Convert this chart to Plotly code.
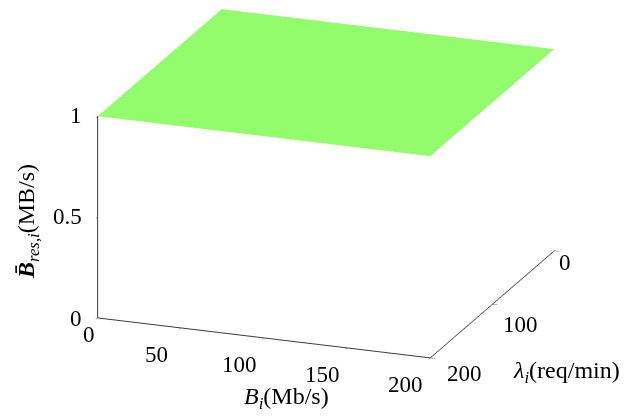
import plotly.graph_objects as go

# Grid of link bandwidth B_i (Mb/s) and request rate lambda_i (req/min)
bandwidth = [0, 50, 100, 150, 200]
req_rate = [0, 50, 100, 150, 200]

# Mean residual bandwidth (MB/s); rows follow req_rate, columns follow bandwidth
res_bw = [
    [1.0, 1.0, 1.0, 1.0, 1.0],
    [1.0, 1.0, 1.0, 1.0, 1.0],
    [1.0, 1.0, 1.0, 1.0, 1.0],
    [1.0, 1.0, 1.0, 1.0, 1.0],
    [1.0, 1.0, 1.0, 1.0, 1.0],
]

lam_ticks = [0, 100, 200]
bw_ticks = [0, 50, 100, 150, 200]
res_ticks = [0, 0.5, 1]

GREEN = "#92FC6D"
AXIS_COLOR = "#3c3c3c"
FONT = "Liberation Serif"
W, H = 631, 419
LAM_MAX, BW_MAX = 200, 200

# Surface z is indexed [bandwidth][req_rate] for x = req_rate, y = bandwidth
z_grid = [[res_bw[i][j] for i in range(len(req_rate))] for j in range(len(bandwidth))]

fig = go.Figure(
    go.Surface(
        x=req_rate,
        y=bandwidth,
        z=z_grid,
        colorscale=[[0, GREEN], [1, GREEN]],
        showscale=False,
        lighting=dict(ambient=1, diffuse=0, specular=0, roughness=1, fresnel=0),
        hoverinfo="skip",
    )
)

axis_common = dict(
    showbackground=False,
    showgrid=False,
    zeroline=False,
    showline=True,
    linecolor=AXIS_COLOR,
    linewidth=2,
    ticks="outside",
    ticklen=5,
    tickcolor=AXIS_COLOR,
    tickwidth=1,
    showticklabels=False,
    showspikes=False,
    title=dict(text=""),
)

ZOOM = 1.935
tick_font = dict(family=FONT, size=23, color="black")

# Tick labels drawn as scene annotations anchored at the tick positions
scene_ann = []
for v in res_ticks:
    scene_ann.append(dict(
        x=LAM_MAX, y=0, z=v, text=f"{v:g}", showarrow=False,
        xanchor="right", yanchor="middle", xshift=-14, yshift=1 if v else -1,
        font=tick_font,
    ))
for v in bw_ticks:
    dx, dy = (-9, -17) if v == 0 else (-25, -27)
    scene_ann.append(dict(
        x=LAM_MAX, y=v, z=0, text=f"{v:g}", showarrow=False,
        xanchor="center", yanchor="middle", xshift=dx, yshift=dy,
        font=tick_font,
    ))
lam_offsets = {0: (11, -12), 100: (28, -20), 200: (34, -16)}
for v in lam_ticks:
    dx, dy = lam_offsets[v]
    scene_ann.append(dict(
        x=v, y=BW_MAX, z=0, text=f"{v:g}", showarrow=False,
        xanchor="center", yanchor="middle", xshift=dx, yshift=dy,
        font=tick_font,
    ))

fig.update_layout(
    width=W,
    height=H,
    margin=dict(l=0, r=0, t=0, b=0),
    paper_bgcolor="white",
    showlegend=False,
    scene=dict(
        domain=dict(x=[0.034, 1.0], y=[0.124, 1.0]),
        xaxis=dict(axis_common, range=[0, LAM_MAX], tickvals=lam_ticks),
        yaxis=dict(axis_common, range=[0, BW_MAX], tickvals=bw_ticks),
        zaxis=dict(axis_common, range=[0, 1], tickvals=res_ticks),
        aspectmode="manual",
        aspectratio=dict(x=1 * ZOOM, y=1 * ZOOM, z=0.6 * ZOOM),
        camera=dict(
            projection=dict(type="orthographic"),
            up=dict(x=0, y=0, z=1),
            center=dict(x=0, y=0, z=0),
            eye=dict(x=0.887 * 2, y=0.331 * 2, z=0.322 * 2),
        ),
        annotations=scene_ann,
    ),
)

# Axis titles, positioned in pixels on the page
titles = [
    ("<b><i>B\u0304</i></b><sub><i>res,i</i></sub>(MB/s)", 28, 222, -90),
    ("<i>B</i><sub><i>i</i></sub>(Mb/s)", 286, 398, 0),
    ("<i>\u03bb</i><sub><i>i</i></sub>(req/min)", 566, 372, 0),
]
for text, px, py, angle in titles:
    fig.add_annotation(
        text=text,
        x=px / W, y=1 - py / H, xref="paper", yref="paper",
        xanchor="center", yanchor="middle",
        showarrow=False, textangle=angle,
        font=dict(family=FONT, size=24, color="black"),
    )

fig.write_html("out.html")
